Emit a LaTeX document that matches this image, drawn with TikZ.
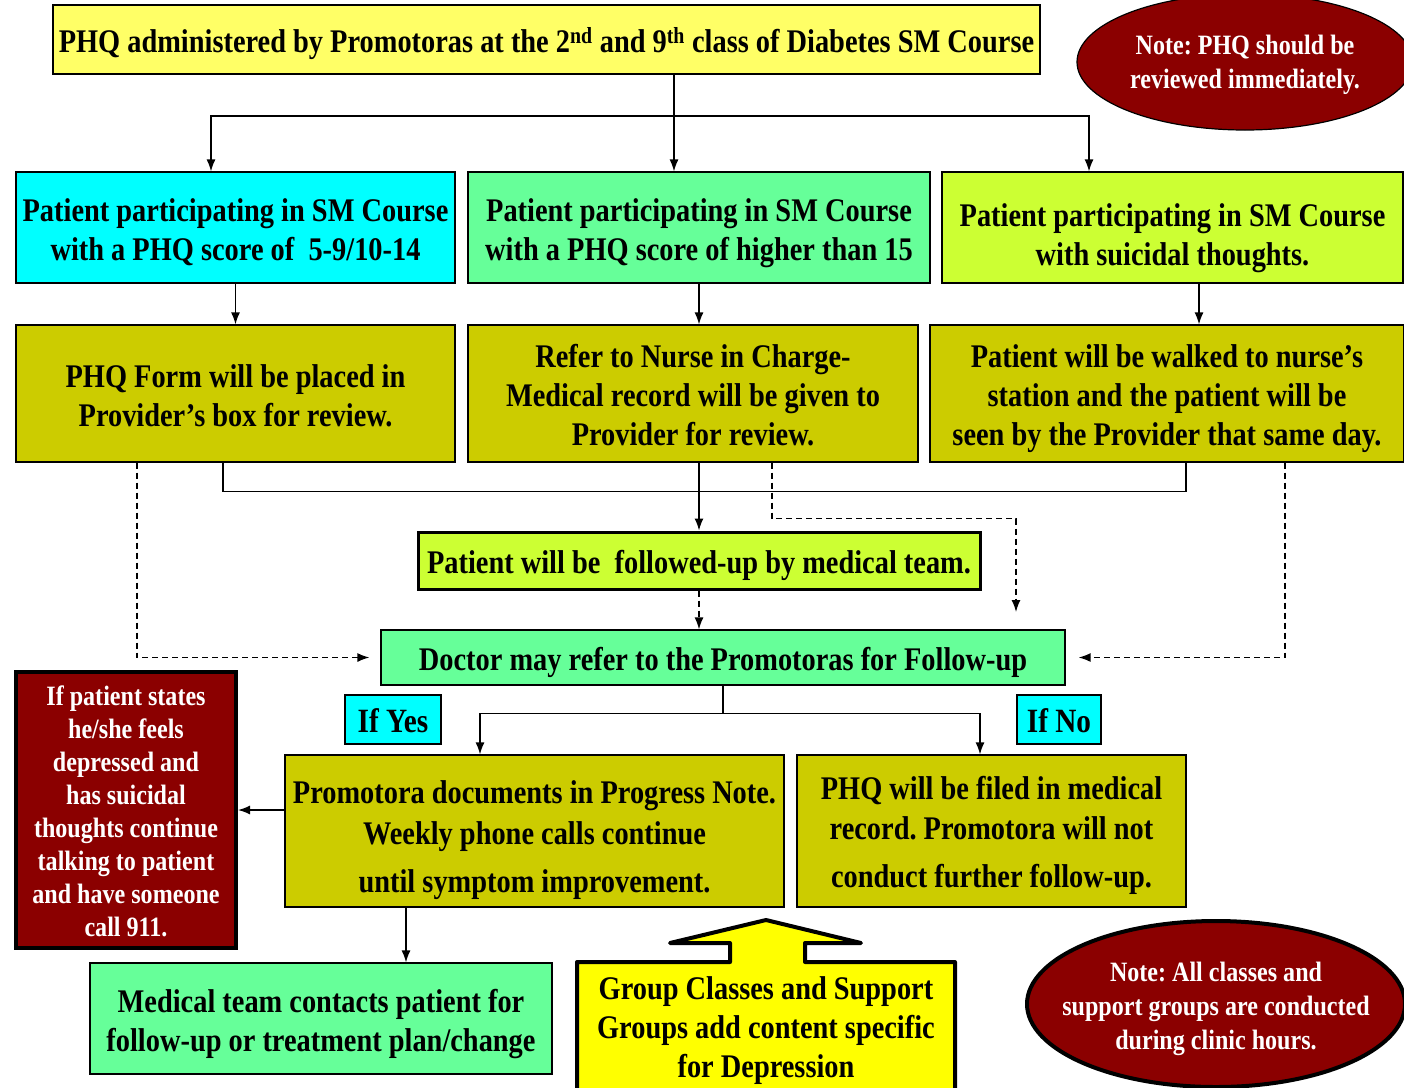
\documentclass[tikz,border=0pt]{standalone}
\usepackage{fontspec}
\setmainfont{Liberation Serif}[FakeStretch=0.86]
\usepackage{tikz}
\usetikzlibrary{arrows.meta,shapes.geometric}
\frenchspacing
\definecolor{paleyellow}{HTML}{FFFF66}
\definecolor{brightyellow}{HTML}{FFFF00}
\definecolor{aqua}{HTML}{00FFFF}
\definecolor{mint}{HTML}{66FF99}
\definecolor{lime}{HTML}{CCFF33}
\definecolor{olive}{HTML}{CCCC00}
\definecolor{darkred}{HTML}{8B0000}
\newcommand{\boxlines}[2][11pt]{\begin{tabular}{@{}c@{}}\rule{0pt}{\dimexpr\ht\strutbox+#1\relax}#2\end{tabular}}

\begin{document}
\begin{tikzpicture}[x=1pt,y=-1pt,line width=1.4pt,>={Latex[length=12pt,width=9pt]},
	box/.style={draw=black,line width=1.2pt,inner sep=0pt,font=\fontsize{33}{39}\selectfont\bfseries},
	tag/.style={box,fill=aqua,font=\fontsize{34}{40}\selectfont\bfseries},
	note/.style={ellipse,draw=black,fill=darkred,text=white,inner xsep=-25pt,inner ysep=-10pt,font=\fontsize{28}{34}\selectfont\bfseries},
	dashline/.style={dash pattern=on 6pt off 4pt}]
		\useasboundingbox (0,0) rectangle (1404,1087);
		\node[box, fill=paleyellow, minimum width=987pt, minimum height=69pt] (phq) at (546.5,39.5) {\boxlines{PHQ administered by Promotoras at the 2\textsuperscript{nd} and 9\textsuperscript{th} class of Diabetes SM Course}};
		\node[note, line width=1.2pt, minimum width=336pt, minimum height=136pt] (review) at (1245,62) {\boxlines[6pt]{Note: PHQ should be\\reviewed immediately.}};
		\node[box, fill=aqua, minimum width=439pt, minimum height=111pt] (mild) at (235.5,227.5) {\boxlines{Patient participating in SM Course\\with a PHQ score of~ 5-9/10-14}};
		\node[box, fill=mint, minimum width=462pt, minimum height=111pt] (severe) at (699,227.5) {\boxlines{Patient participating in SM Course\\with a PHQ score of higher than 15}};
		\node[box, fill=lime, minimum width=461pt, minimum height=111pt] (suicidal) at (1172.5,227.5) {\boxlines[21pt]{Patient participating in SM Course\\with suicidal thoughts.}};
		\coordinate (fork) at (674,116);
			\draw[->] ([xshift=127.5pt]phq.south) -- ([xshift=-25pt]severe.north);
			\draw[->] (fork) -| ([xshift=-24.5pt]mild.north); \draw[->] (fork) -| ([xshift=-83.5pt]suicidal.north);
		\node[box, fill=olive, minimum width=439pt, minimum height=137pt] (form) at (235.5,393.5) {\boxlines{PHQ Form will be placed in\\Provider’s box for review.}};
		\node[box, fill=olive, minimum width=450pt, minimum height=137pt] (nurse) at (693,393.5) {\boxlines{Refer to Nurse in Charge-\\Medical record will be given to\\Provider for review.}};
		\node[box, fill=olive, minimum width=474pt, minimum height=137pt] (walk) at (1167,393.5) {\boxlines{Patient will be walked to nurse’s\\station and the patient will be\\seen by the Provider that same day.}};
			\draw[->] (mild) -- (form); \draw[->] (severe.south) -- (severe.south |- nurse.north);
			\draw[->] ([xshift=26.5pt]suicidal.south) coordinate (s3) -- (s3 |- walk.north);
		\node[box, fill=lime, line width=3pt, minimum width=562pt, minimum height=57pt] (team) at (699,560.5) {\boxlines{Patient will be~ followed-up by medical team.}};
		\node[box, fill=mint, minimum width=684pt, minimum height=55pt] (doctor) at (723,657.5) {\boxlines{Doctor may refer to the Promotoras for Follow-up}};
			\draw ([xshift=-12.5pt]form.south) -- ++(0,29) -| ([xshift=19pt]walk.south);
			\draw[->] (severe.south |- nurse.south) -- (severe.south |- team.north);
			\draw[->,dashline] (team.south) -- (team.south |- doctor.north);
		\coordinate (gap) at (1016,612);
			\draw[->,dashline] ([xshift=79pt]nurse.south) -- ++(0,56) -| (gap);
			\draw[->,dashline] ([xshift=-98.5pt]form.south) |- ([xshift=-11pt]doctor.west);
			\draw[->,dashline] ([xshift=118pt]walk.south) |- ([xshift=13pt]doctor.east);
		\node[tag, minimum width=96pt, minimum height=41pt] (yes) at (393,719.5) {\boxlines[9pt]{If Yes}};
		\node[tag, minimum width=84pt, minimum height=41pt] (no) at (1059,719.5) {\boxlines[9pt]{If No}};
		\node[box, fill=olive, minimum width=499pt, minimum height=152pt, font=\fontsize{33}{41}\selectfont\bfseries] (promo) at (534.5,831) {\boxlines[18pt]{Promotora documents in Progress Note.\\Weekly phone calls continue\\[7pt]until symptom improvement.}};
		\node[box, fill=olive, minimum width=389pt, minimum height=152pt, font=\fontsize{33}{40}\selectfont\bfseries] (filed) at (991.5,831) {\boxlines[8pt]{PHQ will be filed in medical\\record. Promotora will not\\[8pt]conduct further follow-up.}};
			\draw (doctor.south) -- ++(0,28) coordinate (yesno);
			\draw[->] (yesno) -| ([xshift=-54.5pt]promo.north); \draw[->] (yesno) -| ([xshift=-11.5pt]filed.north);
		\node[box, fill=darkred, text=white, line width=4pt, minimum width=220pt, minimum height=276pt, font=\fontsize{28}{33}\selectfont\bfseries] (crisis) at (126,810) {\boxlines[8pt]{If patient states\\he/she feels\\depressed and\\has suicidal\\thoughts continue\\talking to patient\\and have someone\\call 911.}};
			\draw[->] (promo.west |- crisis.east) -- (crisis.east);
		\node[box, fill=mint, minimum width=462pt, minimum height=111pt] (medical) at (321,1018.5) {\boxlines{Medical team contacts patient for\\follow-up or treatment plan/change}};
			\draw[->] ([xshift=-128.5pt]promo.south) coordinate (p1) -- (p1 |- medical.north);
		\draw[line width=4pt, fill=brightyellow, line join=round] (577,1100) -- (577,962) -- (730,962) -- (730,943) -- (670,943) -- (766,920) -- (861,943) -- (805,943) -- (805,962) -- (955,962) -- (955,1100) -- cycle;
		\node[inner sep=0pt, font=\fontsize{33}{39}\selectfont\bfseries] (groups) at (766,1027) {\boxlines[8pt]{Group Classes and Support\\Groups add content specific\\for Depression}};
		\node[note, line width=4pt, minimum width=378pt, minimum height=166pt] (clinic) at (1216,1004) {\boxlines[9pt]{Note: All classes and\\support groups are conducted\\during clinic hours.}};
	\end{tikzpicture}
\end{document}
